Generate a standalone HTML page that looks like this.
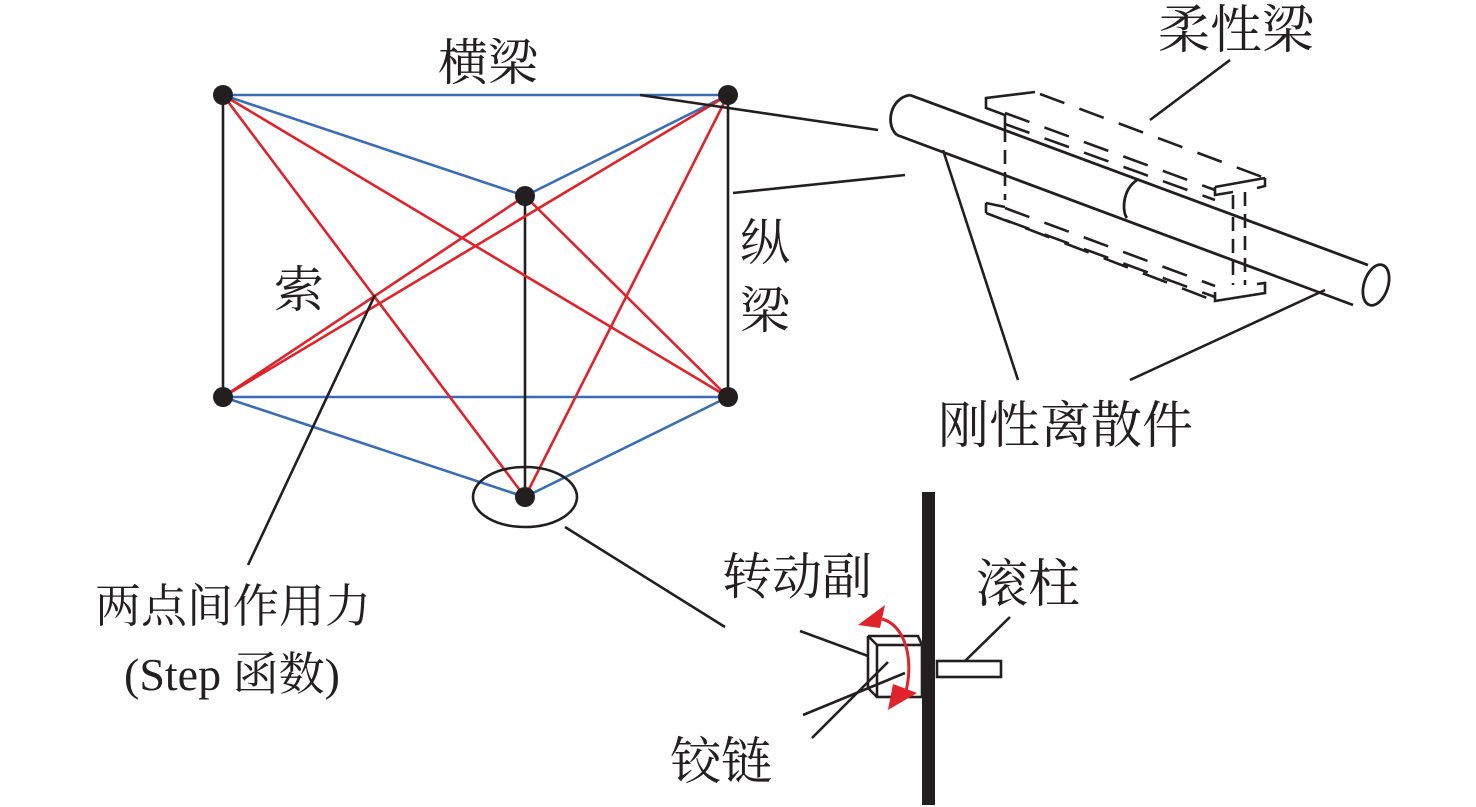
<!DOCTYPE html>
<html><head><meta charset="utf-8"><style>
html,body{margin:0;padding:0;background:#fff}
svg{display:block}
text{font-family:"Liberation Serif","Noto Serif CJK SC",serif;font-size:50px;fill:#231f20}
</style></head><body>
<svg width="1476" height="807" viewBox="0 0 1476 807" xmlns="http://www.w3.org/2000/svg">
<g stroke-width="2.6" fill="none">
<g stroke="#3a6db5">
<line x1="223" y1="95" x2="728" y2="95"/><line x1="223" y1="95" x2="525" y2="196"/><line x1="728" y1="95" x2="525" y2="196"/>
<line x1="223" y1="397" x2="728" y2="397"/><line x1="223" y1="397" x2="525" y2="497"/><line x1="728" y1="397" x2="525" y2="497"/>
</g>
<g stroke="#231f20">
<line x1="223" y1="95" x2="223" y2="397"/><line x1="728" y1="95" x2="728" y2="397"/><line x1="525" y1="196" x2="525" y2="497"/>
</g>
<g stroke="#e0232a">
<line x1="223" y1="95" x2="728" y2="397"/><line x1="223" y1="95" x2="525" y2="497"/>
<line x1="728" y1="95" x2="223" y2="397"/><line x1="728" y1="95" x2="525" y2="497"/>
<line x1="525" y1="196" x2="223" y2="397"/><line x1="525" y1="196" x2="728" y2="397"/>
</g>
<g stroke="#231f20">
<line x1="640" y1="95" x2="878" y2="130"/><line x1="733" y1="193" x2="905" y2="175"/>
<line x1="375" y1="295" x2="248" y2="565"/>
<ellipse cx="525" cy="497" rx="52" ry="30"/>
<line x1="565" y1="527" x2="725" y2="627"/>
<line x1="1230" y1="60" x2="1150" y2="120"/>
<line x1="943" y1="150" x2="1018" y2="380"/>
<line x1="1325" y1="290" x2="1130" y2="380"/>
</g>
</g>
<g fill="#231f20">
<circle cx="223" cy="95" r="10"/><circle cx="728" cy="95" r="10"/><circle cx="525" cy="196" r="10"/>
<circle cx="223" cy="397" r="10"/><circle cx="728" cy="397" r="10"/><circle cx="525" cy="497" r="10"/>
</g>
<!-- beam -->
<g stroke="#231f20" stroke-width="2.8" fill="none">
<path d="M910,95 L1368,265"/>
<path d="M897,135 L1353,305"/>
<path d="M910,95 C890,98 885,125 897,135"/>
<ellipse cx="1376" cy="285" rx="12" ry="21" transform="rotate(18 1376 285)"/>
<path d="M1137,180 C1122,190 1122,212 1127,218"/>
</g>
<g stroke="#231f20" stroke-width="2.6" fill="none" stroke-dasharray="26,16">
<path d="M1040,94 L1265,178"/>
<path d="M1005,113 L1215,190"/>
<path d="M1005,124 L1215,200"/>
<path d="M1005,208 L1215,286"/>
<path d="M1005,220 L1215,297"/>
<path d="M986,213 L1215,301"/>
</g>
<g stroke="#231f20" stroke-width="2.6" fill="none" stroke-dasharray="14,8">
<path d="M1005,128 L1005,200"/>
<path d="M1233,195 L1233,285"/>
<path d="M1245,192 L1245,285"/>
</g>
<g stroke="#231f20" stroke-width="2.6" fill="none">
<path d="M1035,92 L986,98 L986,108 L1005,115 L1005,128"/>
<path d="M986,203 L986,213"/>
<path d="M986,203 L1005,207"/>
<path d="M1265,178 L1265,186 L1257,188"/>
<path d="M1215,187 L1265,178"/>
<path d="M1215,187 L1215,195 L1233,192"/>
<path d="M1215,292 L1215,301 L1265,293 L1265,283 L1257,284"/>
</g>
<!-- hinge -->
<rect x="922" y="492" width="13" height="313" fill="#231f20"/>
<g stroke="#231f20" stroke-width="2.6" fill="none">
<rect x="877" y="645" width="45" height="52"/>
<path d="M868,636 L918,636 L922,645 M868,636 L877,645 M868,636 L868,688 L877,697"/>
<rect x="937" y="661" width="64" height="16"/>
<line x1="1010" y1="617" x2="965" y2="661"/>
<line x1="800" y1="631" x2="868" y2="656"/>
<line x1="803" y1="715" x2="905" y2="673"/>
<line x1="812" y1="738" x2="888" y2="662"/>
</g>
<path d="M882,619 C905,625 915,660 905,695" stroke="#e0232a" stroke-width="3" fill="none"/>
<polygon points="858,625 885,605 880,628" fill="#e0232a"/>
<polygon points="888,710 893,684 917,693" fill="#e0232a"/>
<!-- labels -->
<text x="438" y="80">横梁</text>
<text x="740" y="260">纵</text>
<text x="740" y="328">梁</text>
<text x="274" y="307">索</text>
<text x="1158" y="48" style="font-size:52px">柔性梁</text>
<text x="938" y="443" style="font-size:51px">刚性离散件</text>
<text x="95" y="622" style="font-size:46px">两点间作用力</text>
<text x="124" y="690" style="font-size:46px">(Step 函数)</text>
<text x="722" y="594">转动副</text>
<text x="976" y="602" style="font-size:52px">滚柱</text>
<text x="670" y="779" style="font-size:51px">铰链</text>
</svg>
</body></html>
